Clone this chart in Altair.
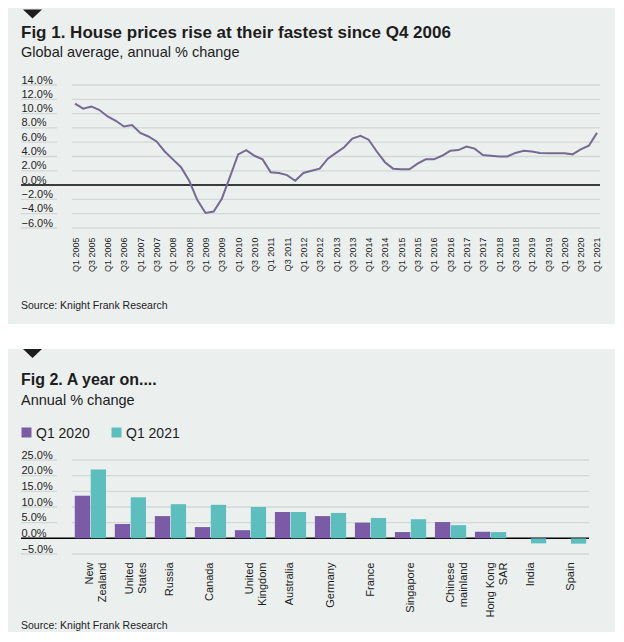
import altair as alt
import pandas as pd

FONT = "Liberation Sans"
BG = "#ebefee"
GRID = "#d3d7d6"
LINE = "#766a93"
PURPLE = "#7c5ba6"
TEAL = "#5cbfbd"
INK = "#1d1d1d"

# ---------------- Fig 1 data ----------------
years = [str(y) for y in range(2005, 2022)]
quarters = [f"Q{q} {y}" for y in years for q in range(1, 5)][:65]
growth = [
    11.4, 10.7, 11.0, 10.5,   # 2005
    9.6, 9.0, 8.2, 8.4,       # 2006
    7.3, 6.8, 6.1, 4.7,       # 2007
    3.6, 2.5, 0.6, -2.1,      # 2008
    -3.9, -3.7, -1.9, 1.15,   # 2009
    4.3, 4.9, 4.1, 3.6,       # 2010
    1.8, 1.7, 1.4, 0.6,       # 2011
    1.7, 2.0, 2.3, 3.7,       # 2012
    4.5, 5.3, 6.5, 6.9,       # 2013
    6.35, 4.7, 3.2, 2.3,      # 2014
    2.2, 2.2, 3.0, 3.6,       # 2015
    3.6, 4.1, 4.8, 4.9,       # 2016
    5.4, 5.1, 4.2, 4.1,       # 2017
    4.0, 4.0, 4.5, 4.8,       # 2018
    4.7, 4.5, 4.45, 4.45,     # 2019
    4.45, 4.3, 5.0, 5.5,      # 2020
    7.3,                      # Q1 2021
]
top_tick_labels = [q for q in quarters if q[:2] in ("Q1", "Q3")]
top_ticks = [-6, -4, -2, 0, 2, 4, 6, 8, 10, 12, 14]

# ---------------- Fig 2 data ----------------
countries = ["New Zealand", "United States", "Russia", "Canada", "United Kingdom",
             "Australia", "Germany", "France", "Singapore", "Chinese mainland",
             "Hong Kong SAR", "India", "Spain"]
series = ["Q1 2020", "Q1 2021"]
q1_2020 = [13.6, 4.6, 7.1, 3.6, 2.6, 8.4, 7.1, 5.0, 2.0, 5.2, 2.1, None, None]
q1_2021 = [22.0, 13.1, 10.9, 10.7, 10.0, 8.4, 8.1, 6.5, 6.1, 4.2, 2.0, -1.6, -1.7]
bottom_ticks = [-5, 0, 5, 10, 15, 20, 25]

W1, H1 = 528, 143
W2, H2 = 517, 94
RIGHT = 543

one = pd.DataFrame({"k": [0]})


def text(t, x, y, size, weight="normal"):
    return alt.Chart(one).mark_text(
        text=t, align="left", baseline="alphabetic", font=FONT, fontSize=size,
        fontWeight=weight, color=INK
    ).encode(x=alt.value(x), y=alt.value(y))


def rect(x, x2, y, y2, color):
    return alt.Chart(one).mark_rect(color=color).encode(
        x=alt.value(x), x2=alt.value(x2), y=alt.value(y), y2=alt.value(y2))


def triangle(x, y):
    return alt.Chart(one).mark_point(
        shape="M-1,-0.47L1,-0.47L0,0.47Z", filled=True, size=361, color=INK, opacity=1
    ).encode(x=alt.value(x), y=alt.value(y))


def yaxis(values):
    return alt.Axis(values=values, labelExpr="format(datum.value, '.1f') + '%'",
                    labelAlign="left", labelBaseline="bottom", labelPadding=51,
                    labelFontSize=11, labelColor=INK, labelFont=FONT,
                    ticks=False, domain=False, grid=False, title=None, zindex=1)


def grid_layers(ticks, scale, axis, width):
    df = pd.DataFrame({"v": [t for t in ticks if t != 0]})
    stubs = alt.Chart(df).mark_rule(color=GRID, strokeWidth=1.3).encode(
        y=alt.Y("v:Q", scale=scale, axis=axis), x=alt.value(-51), x2=alt.value(-15))
    main = alt.Chart(df).mark_rule(color=GRID, strokeWidth=1.3).encode(
        y=alt.Y("v:Q", scale=scale, axis=axis), x=alt.value(0), x2=alt.value(width))
    zero = alt.Chart(pd.DataFrame({"v": [0]})).mark_rule(color="#000000", strokeWidth=1.5).encode(
        y=alt.Y("v:Q", scale=scale, axis=axis), x=alt.value(-51), x2=alt.value(width))
    return [stubs, main, zero]


# ---------------- Fig 1 ----------------
y1 = alt.Scale(domain=[-6, 14], nice=False)
yax1 = yaxis(top_ticks)
xax1 = alt.Axis(values=top_tick_labels, labelAngle=-90, labelAlign="right",
                labelBaseline="middle", labelFontSize=9, labelPadding=9,
                labelColor=INK, labelFont=FONT, labelOverlap=False,
                ticks=False, domain=False, grid=False, title=None, zindex=1)

line = alt.Chart(pd.DataFrame({"quarter": quarters, "growth": growth})).mark_line(
    color=LINE, strokeWidth=2
).encode(
    x=alt.X("quarter:O", sort=quarters, scale=alt.Scale(type="point", padding=0.37), axis=xax1),
    y=alt.Y("growth:Q", scale=y1, axis=yax1),
)

top = alt.layer(
    rect(-64, RIGHT, -77, 239, BG),
    *grid_layers(top_ticks, y1, yax1, W1),
    line,
    text("Fig 1. House prices rise at their fastest since Q4 2006", -51, -47, 17, "bold"),
    text("Global average, annual % change", -51, -28, 14.5),
    text("Source: Knight Frank Research", -51, 224, 10.5),
    triangle(-39.5, -71),
).properties(width=W1, height=H1)

# ---------------- Fig 2 ----------------
rows = []
for c, a, b in zip(countries, q1_2020, q1_2021):
    rows.append({"country": c, "series": series[0], "value": a})
    rows.append({"country": c, "series": series[1], "value": b})
bars_df = pd.DataFrame(rows)

y2 = alt.Scale(domain=[-5, 25], nice=False)
yax2 = yaxis(bottom_ticks)
xax2 = alt.Axis(labelAngle=-90, labelAlign="right", labelBaseline="middle",
                labelExpr="datum.label == 'Hong Kong SAR' ? ['Hong Kong', 'SAR'] : split(datum.label, ' ')",
                labelFontSize=11, labelLineHeight=13, labelPadding=8,
                labelColor=INK, labelFont=FONT, labelOverlap=False,
                ticks=False, domain=False, grid=False, title=None, zindex=1)

bars = alt.Chart(bars_df).mark_bar().encode(
    x=alt.X("country:N", sort=countries,
            scale=alt.Scale(paddingInner=0.22, paddingOuter=0.07), axis=xax2),
    xOffset=alt.XOffset("series:N", sort=series, scale=alt.Scale(paddingInner=0.04)),
    y=alt.Y("value:Q", scale=y2, axis=yax2),
    color=alt.Color("series:N", scale=alt.Scale(domain=series, range=[PURPLE, TEAL]), legend=None),
)

legend_layers = []
for name, col, sx, tx in zip(series, [PURPLE, TEAL], [-45.5, 44.5], [-36, 54]):
    legend_layers.append(
        alt.Chart(one).mark_square(size=100, color=col, opacity=1).encode(
            x=alt.value(sx), y=alt.value(-27.5)))
    legend_layers.append(text(name, tx, -22.5, 14))

bottom = alt.layer(
    rect(-64, RIGHT, -136, -111, "#ffffff"),
    rect(-64, RIGHT, -111, 172, BG),
    *grid_layers(bottom_ticks, y2, yax2, W2),
    bars,
    triangle(-39.5, -106.5),
    text("Fig 2. A year on....", -51, -75, 16, "bold"),
    text("Annual % change", -51, -55, 14.5),
    *legend_layers,
    text("Source: Knight Frank Research", -51, 169, 10.5),
).properties(width=W2, height=H2)

chart = alt.vconcat(top, bottom, spacing=0).properties(
    padding=0, background=BG
).configure_view(strokeWidth=0)

chart.save("out.html", embed_options={"renderer": "svg", "actions": False})
